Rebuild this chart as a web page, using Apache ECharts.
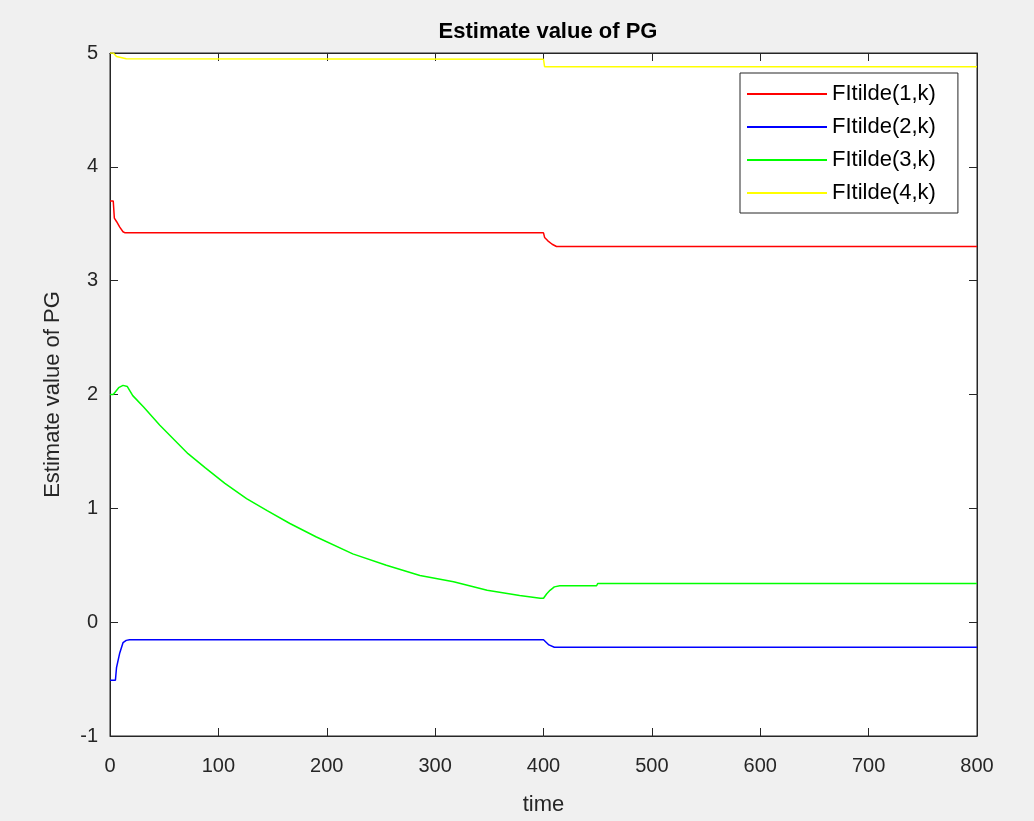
<!DOCTYPE html>
<html>
<head>
<meta charset="utf-8">
<script src="https://cdn.jsdelivr.net/npm/echarts@6/dist/echarts.min.js"></script>
<style>
html,body{margin:0;padding:0;background:#f0f0f0;}
#chart{width:1034px;height:821px;}
</style>
</head>
<body>
<div id="chart"></div>
<script>
const titleText = "Estimate value of PG";
const xName = "time";
const yName = "Estimate value of PG";
const seriesNames = ["FItilde(1,k)", "FItilde(2,k)", "FItilde(3,k)", "FItilde(4,k)"];
const seriesColors = ["#ff0000", "#0000ff", "#00ff00", "#ffff00"];

const redTime = [0, 3, 4, 6, 9, 12, 14, 400, 401, 404, 408, 412, 415, 800];
const redValues = [3.70, 3.70, 3.55, 3.52, 3.47, 3.43, 3.42, 3.42, 3.38, 3.35, 3.32, 3.30, 3.30, 3.30];

const blueTime = [0, 5, 6, 9, 12, 15, 18, 400, 405, 410, 800];
const blueValues = [-0.51, -0.51, -0.40, -0.27, -0.18, -0.16, -0.155, -0.155, -0.20, -0.22, -0.22];

const greenTime = [0, 3, 8, 12, 16, 21, 31, 46, 72, 88, 106, 126, 145, 166, 190, 224, 255, 286, 317, 348, 378, 397, 400, 403, 406, 410, 415, 449, 450, 800];
const greenValues = [2.0, 2.0, 2.06, 2.08, 2.07, 1.99, 1.89, 1.73, 1.48, 1.355, 1.22, 1.085, 0.98, 0.867, 0.75, 0.60, 0.50, 0.41, 0.355, 0.28, 0.235, 0.21, 0.21, 0.25, 0.28, 0.31, 0.32, 0.32, 0.34, 0.34];

const yellowTime = [0, 3, 6, 15, 400, 401, 800];
const yellowValues = [5.0, 5.0, 4.97, 4.95, 4.945, 4.88, 4.88];

const xTicks = [0, 100, 200, 300, 400, 500, 600, 700, 800];
const yTicks = [-1, 0, 1, 2, 3, 4, 5];

function pairs(t, v) { return t.map((x, i) => [x, v[i]]); }
const allTimes = [redTime, blueTime, greenTime, yellowTime];
const allValues = [redValues, blueValues, greenValues, yellowValues];

const axisColor = "#262626";
const font = "Liberation Sans, Arial, sans-serif";

const chart = echarts.init(document.getElementById("chart"));
const baseX = {
  type: "value", min: xTicks[0], max: xTicks[xTicks.length - 1], interval: 100,
  axisLine: { show: true, onZero: false, lineStyle: { color: axisColor, width: 1 } },
  axisTick: { show: true, inside: true, length: 8, lineStyle: { color: axisColor } },
  splitLine: { show: false }
};
const baseY = {
  type: "value", min: yTicks[0], max: yTicks[yTicks.length - 1], interval: 1,
  axisLine: { show: true, onZero: false, lineStyle: { color: axisColor, width: 1 } },
  axisTick: { show: true, inside: true, length: 8, lineStyle: { color: axisColor } },
  splitLine: { show: false }
};
chart.setOption({
  backgroundColor: "#f0f0f0",
  animation: false,
  title: {
    text: titleText, left: 543, top: 16, textAlign: "center",
    textStyle: { fontFamily: font, fontWeight: "bold", fontSize: 22, color: "#000" }
  },
  grid: { left: 110, right: 57, top: 53, bottom: 83, show: true, backgroundColor: "#ffffff", borderColor: axisColor, borderWidth: 1 },
  legend: {
    orient: "vertical", left: 740, top: 73,
    backgroundColor: "#ffffff", borderColor: axisColor, borderWidth: 1, borderRadius: 0,
    padding: [10, 22, 9, 7],
    icon: "rect",
    itemWidth: 80, itemHeight: 2, itemGap: 11,
    textStyle: { fontFamily: font, fontSize: 22, color: "#000" },
    data: seriesNames
  },
  xAxis: [
    Object.assign({}, baseX, {
      position: "bottom", name: xName, nameLocation: "middle", nameGap: 58,
      nameTextStyle: { fontFamily: font, fontSize: 22, color: axisColor },
      axisLabel: { margin: 20, fontFamily: font, fontSize: 20, color: axisColor }
    }),
    Object.assign({}, baseX, { position: "top", axisLabel: { show: false } })
  ],
  yAxis: [
    Object.assign({}, baseY, {
      position: "left", name: yName, nameLocation: "middle", nameGap: 46,
      nameTextStyle: { fontFamily: font, fontSize: 22, color: axisColor },
      axisLabel: { margin: 12, fontFamily: font, fontSize: 20, color: axisColor }
    }),
    Object.assign({}, baseY, { position: "right", axisLabel: { show: false } })
  ],
  series: seriesNames.map((n, i) => ({
    name: n, type: "line", xAxisIndex: 0, yAxisIndex: 0,
    data: pairs(allTimes[i], allValues[i]),
    symbol: "none", color: seriesColors[i],
    lineStyle: { color: seriesColors[i], width: 1.5 }
  }))
});
</script>
</body>
</html>
